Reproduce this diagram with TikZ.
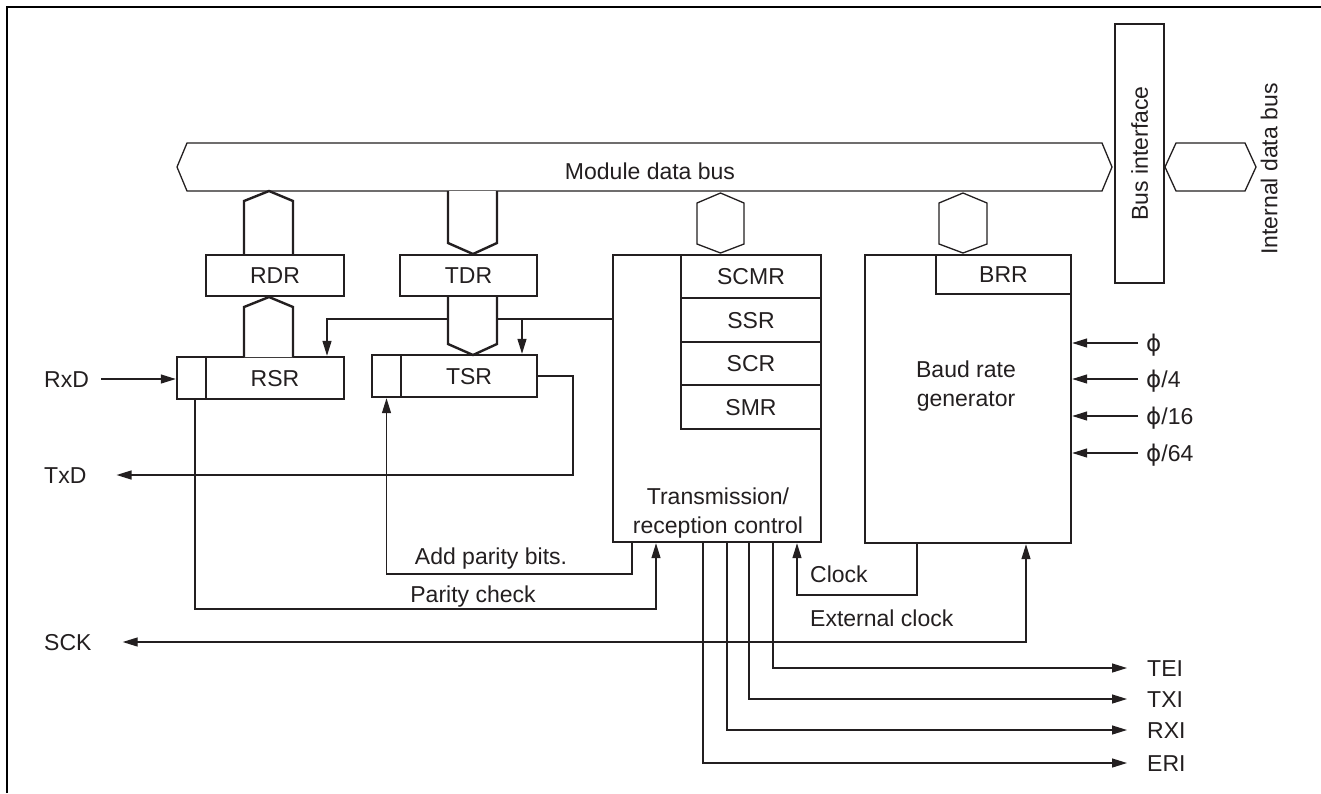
\documentclass[tikz,border=0pt]{standalone}
\usepackage{fontspec}
\setmainfont{Liberation Sans}
\newfontfamily\phifont{DejaVu Sans}
\newcommand{\myphi}{{\phifont ϕ}}
\usetikzlibrary{arrows.meta}
\definecolor{ink}{RGB}{35,31,32}
\begin{document}
\begin{tikzpicture}[x=1pt,y=-1pt,
  every node/.style={font=\fontsize{23}{29}\selectfont, text=ink, inner sep=0pt},
  lbl/.style={text height=16.5pt, text depth=0pt},
  regbox/.style={draw=ink, line width=2.4pt, lbl},
  thinln/.style={draw=ink, line width=1.3pt},
  thickln/.style={draw=ink, line width=2.4pt},
  arr/.style={thinln, -{Triangle[length=15pt,width=9pt]}},
  darr/.style={thinln, {Triangle[length=15pt,width=9pt]}-{Triangle[length=15pt,width=9pt]}},
]
\useasboundingbox (0,0) rectangle (1321,793);
\fill[white] (0,0) rectangle (1321,793);
% frame
\draw[black, line width=2.6pt] (7,793) -- (7,7) -- (1321,7);

% module data bus
\draw[thinln] (187,143) -- (1102,143) -- (1112,167) -- (1102,191) -- (187,191) -- (177,167) -- cycle;
\node[lbl] (mdb) at (650,171) {Module data bus};

% bus interface and internal bus
\node[regbox, rotate=90, minimum width=259pt, minimum height=49pt] (bif) at (1139.5,153.5) {Bus interface};
\draw[thinln] (1176,143) -- (1245,143) -- (1256,167) -- (1245,191) -- (1176,191) -- (1165,167) -- cycle;
\node[lbl, rotate=90] (idb) at (1269,169) {Internal data bus};

% control line to RSR / TSR (drawn before the TDR-TSR bus so it passes behind it)
\node (ctrl) [draw=ink, line width=2.4pt, minimum width=208pt, minimum height=287pt] at (717,398.5) {};
\node (RSRs) [regbox, minimum width=29pt, minimum height=42pt] at (191.5,378) {};
\node (RSR)  [regbox, minimum width=138pt, minimum height=42pt] at (275,378) {RSR};
\node (TSRs) [regbox, minimum width=29pt, minimum height=42pt] at (386.5,376) {};
\node (TSR)  [regbox, minimum width=136pt, minimum height=42pt] at (469,376) {TSR};
\coordinate (cl) at (327,319);
\coordinate (cb) at (522,319);
\draw[arr] (cl -| ctrl.west) -- (cl) -- (cl |- RSR.north);
\draw[arr] (cb) -- (cb |- TSR.north);

% wide data paths
\draw[thickln, fill=white] (244,255) -- (244,201) -- (269,191) -- (293,201) -- (293,255);
\draw[thickln, fill=white] (244,357) -- (244,307) -- (269,297) -- (293,307) -- (293,357);
\draw[thickln, fill=white] (448,191) -- (448,243) -- (473,254) -- (497,243) -- (497,191);
\draw[thickln, fill=white] (448,296) -- (448,344) -- (473,355) -- (497,344) -- (497,296);
\draw[thinln] (720.5,193) -- (744,203) -- (744,244) -- (720.5,253) -- (697,244) -- (697,203) -- cycle;
\draw[thinln] (963,193) -- (987,203) -- (987,244) -- (963,253) -- (939,244) -- (939,203) -- cycle;

% registers
\node (RDR) [regbox, minimum width=138pt, minimum height=41pt] at (275,275.5) {RDR};
\node (TDR) [regbox, minimum width=137pt, minimum height=41pt] at (468.5,275.5) {TDR};
\node (SCMR) [regbox, minimum width=140pt, minimum height=43pt] at (751,276.5) {SCMR};
\node (SSR)  [regbox, minimum width=140pt, minimum height=44pt] at (751,320) {SSR};
\node (SCR)  [regbox, minimum width=140pt, minimum height=43pt] at (751,363.5) {SCR};
\node (SMR)  [regbox, minimum width=140pt, minimum height=44pt] at (751,407) {SMR};
\node (ctrltxt) [align=center] at (718,512.75) {Transmission/\\reception control};

% baud rate generator
\node (baud) [draw=ink, line width=2.4pt, minimum width=206pt, minimum height=288pt] at (968,399) {};
\node (BRR) [regbox, minimum width=135pt, minimum height=39pt] at (1003.5,274.5) {BRR};
\node (baudtxt) [align=center] at (966,385.75) {Baud rate\\generator};

% clock inputs
\node (p1) [lbl, anchor=west] at (1146,343) {\myphi};
\node (p2) [lbl, anchor=west] at (1146,379) {\myphi/4};
\node (p3) [lbl, anchor=west] at (1146,416) {\myphi/16};
\node (p4) [lbl, anchor=west] at (1146,453) {\myphi/64};
\foreach \p in {p1,p2,p3,p4} \draw[arr] ([xshift=-8pt]\p.west) -- (\p -| baud.east);

% external pins
\node (rxd) [lbl, anchor=west] at (44,379) {RxD};
\node (txd) [lbl, anchor=west] at (44,475) {TxD};
\node (sck) [lbl, anchor=west] at (44,642) {SCK};
\draw[arr] ([xshift=12pt]rxd.east) -- (rxd -| RSRs.west);
\coordinate (tx) at (573,475);
\draw[arr] (TSR.east) -| (tx) -- ([xshift=30pt]txd.east);
\coordinate (ec) at (1026,642);
\draw[darr] ([xshift=31pt]sck.east) -- (ec) -- (ec |- baud.south);

% parity paths
\coordinate (pc) at (656,609);
\draw[arr] ([xshift=3.5pt]RSRs.south) |- (pc) -- (pc |- ctrl.south);
\coordinate (ap) at (632,574);
\draw[arr] (ap |- ctrl.south) -- (ap) -| (TSRs.south);
\node (aptxt) [lbl] at (491,556) {Add parity bits.};
\node (pctxt) [lbl] at (473,594) {Parity check};

% clock path
\coordinate (ck) at (917,595);
\coordinate (ckin) at (797,595);
\draw[arr] (ck |- baud.south) -- (ck) -- (ckin) -- (ckin |- ctrl.south);
\node (clk) [lbl, anchor=west] at (810,574) {Clock};
\node (ext) [lbl, anchor=west] at (810,618) {External clock};

% interrupts
\node (tei) [lbl, anchor=west] at (1147,668) {TEI};
\node (txi) [lbl, anchor=west] at (1147,699) {TXI};
\node (rxi) [lbl, anchor=west] at (1147,730) {RXI};
\node (eri) [lbl, anchor=west] at (1147,763) {ERI};
\coordinate (xtei) at (773,0);
\coordinate (xtxi) at (749,0);
\coordinate (xrxi) at (727,0);
\coordinate (xeri) at (703,0);
\draw[arr] (xtei |- ctrl.south) |- ([xshift=-20pt]tei.west);
\draw[arr] (xtxi |- ctrl.south) |- ([xshift=-20pt]txi.west);
\draw[arr] (xrxi |- ctrl.south) |- ([xshift=-20pt]rxi.west);
\draw[arr] (xeri |- ctrl.south) |- ([xshift=-20pt]eri.west);
\end{tikzpicture}
\end{document}
